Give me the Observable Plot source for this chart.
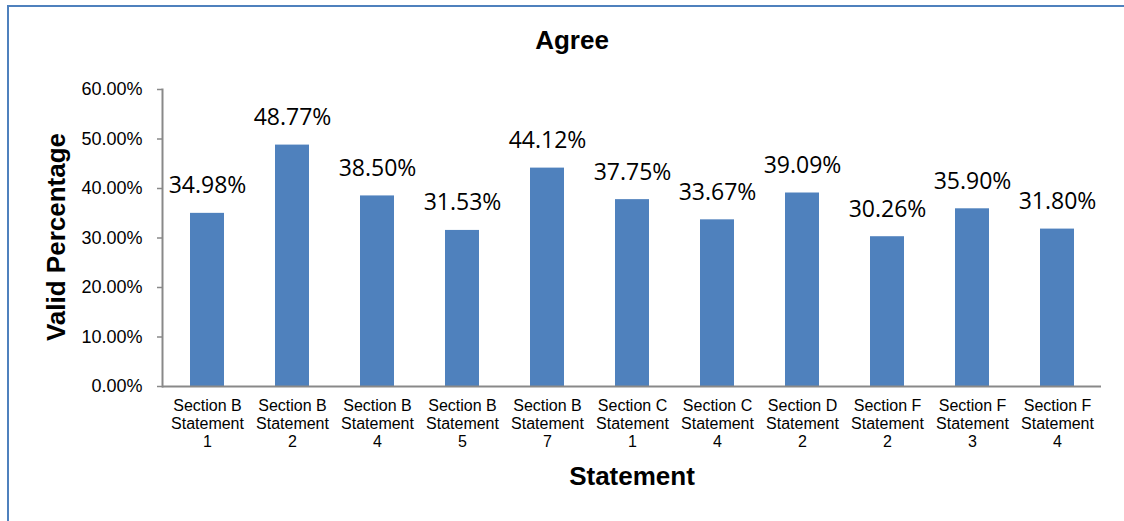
<!DOCTYPE html>
<html>
<head>
<meta charset="utf-8">
<script src="https://cdn.jsdelivr.net/npm/d3@7"></script>
<script src="https://cdn.jsdelivr.net/npm/@observablehq/plot@0.6"></script>
<style>
  html, body { margin: 0; padding: 0; background: #fff; overflow: hidden; }
  #wrap { position: relative; width: 1124px; height: 521px; overflow: hidden; }
  #border { position: absolute; left: 7px; top: 5px; width: 1140px; height: 540px; border-left: 2px solid #4F81BD; border-top: 2px solid #4F81BD; }
  #chart { position: absolute; left: 0; top: 0; }
  .lbl { position: absolute; font-family: "Liberation Sans", Arial, sans-serif; font-weight: bold; font-size: 26px; line-height: 1; color: #000; white-space: nowrap; }
</style>
</head>
<body>
<div id="wrap">
  <div id="border"></div>
  <div id="chart"></div>
  <div class="lbl" id="title" style="left:572px; top:27px; transform: translateX(-50%);">Agree</div>
  <div class="lbl" id="xlabel" style="left:632px; top:463px; transform: translateX(-50%);">Statement</div>
  <div class="lbl" id="ylabel" style="left:56px; top:237px; transform: translate(-50%,-50%) rotate(-90deg);">Valid Percentage</div>
</div>
<script>
const categories = [
  "Section B\nStatement\n1",
  "Section B\nStatement\n2",
  "Section B\nStatement\n4",
  "Section B\nStatement\n5",
  "Section B\nStatement\n7",
  "Section C\nStatement\n1",
  "Section C\nStatement\n4",
  "Section D\nStatement\n2",
  "Section F\nStatement\n2",
  "Section F\nStatement\n3",
  "Section F\nStatement\n4"
];
const values = [34.98, 48.77, 38.50, 31.53, 44.12, 37.75, 33.67, 39.09, 30.26, 35.90, 31.80];
const yTicks = [0, 10, 20, 30, 40, 50, 60];

const data = categories.map((c, i) => ({category: c, value: values[i]}));

const chart = Plot.plot({
  width: 1124,
  height: 521,
  marginLeft: 162,
  marginRight: 23,
  marginTop: 89,
  marginBottom: 135,
  style: {fontFamily: "'Liberation Sans', Arial, sans-serif", color: "#000", background: "transparent"},
  x: {domain: categories, paddingInner: 0.6, paddingOuter: 0.3, label: null},
  y: {domain: [0, 60], label: null},
  marks: [
    Plot.barY(data, {x: "category", y: "value", fill: "#4F81BD"}),
    Plot.text(data, {
      x: "category", y: "value", text: d => d.value.toFixed(2) + "%",
      lineAnchor: "bottom", dy: -20, fontSize: 23,
      fontFamily: "'Open Sans', 'Noto Sans', sans-serif", fill: "#000"
    }),
    Plot.axisY({ticks: yTicks, tickFormat: d => d.toFixed(2) + "%", tickSize: 5, tickPadding: 15,
      fontSize: 18, stroke: "#898989", strokeWidth: 1.5, fill: "#000", label: null}),
    Plot.axisX({tickSize: 0, tickPadding: 12, fontSize: 16, lineHeight: 1.12, fill: "#000", label: null}),
    Plot.frame({anchor: "left", stroke: "#898989", strokeWidth: 2}),
    Plot.ruleY([0], {stroke: "#898989", strokeWidth: 2})
  ]
});
document.getElementById("chart").appendChild(chart);
</script>
</body>
</html>
